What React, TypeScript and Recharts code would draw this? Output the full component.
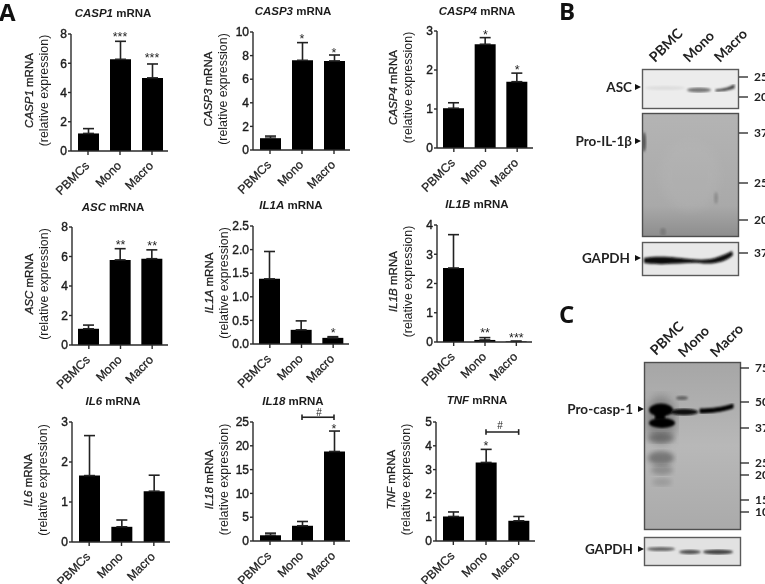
import { BarChart, Bar, XAxis, YAxis, ErrorBar, ReferenceDot, ReferenceLine } from 'recharts'

const FONT = '"Liberation Sans", Arial, sans-serif'
const BLOT_FONT = 'Lato, "Open Sans", sans-serif'
const INK = '#1c1c1c'

const categories = ['PBMCs', 'Mono', 'Macro']

const casp1Means = [1.2, 6.27, 5.0]
const casp1Tops = [1.53, 7.5, 5.95]
const casp3Means = [1.0, 7.6, 7.55]
const casp3Tops = [1.18, 9.1, 8.05]
const casp4Means = [1.02, 2.66, 1.7]
const casp4Tops = [1.16, 2.83, 1.92]
const ascMeans = [1.1, 5.77, 5.85]
const ascTops = [1.35, 6.53, 6.45]
const il1aMeans = [1.38, 0.3, 0.13]
const il1aTops = [1.96, 0.49, 0.155]
const il1bMeans = [2.53, 0.07, 0.02]
const il1bTops = [3.67, 0.15, 0.03]
const il6Means = [1.66, 0.38, 1.27]
const il6Tops = [2.66, 0.55, 1.67]
const il18Means = [1.2, 3.2, 18.8]
const il18Tops = [1.65, 4.1, 23.1]
const tnfMeans = [1.03, 3.3, 0.85]
const tnfTops = [1.22, 3.85, 1.03]

const casp1Ticks = [0, 2, 4, 6, 8]
const casp3Ticks = [0, 2, 4, 6, 8, 10]
const casp4Ticks = [0, 1, 2, 3]
const ascTicks = [0, 2, 4, 6, 8]
const il1aTicks = [0, 0.5, 1, 1.5, 2, 2.5]
const il1bTicks = [0, 1, 2, 3, 4]
const il6Ticks = [0, 1, 2, 3]
const il18Ticks = [0, 5, 10, 15, 20, 25]
const tnfTicks = [0, 1, 2, 3, 4, 5]

// significance marks, y in axis units
const casp1Marks = [['Mono', '***', 8.08], ['Macro', '***', 6.62]]
const casp3Marks = [['Mono', '*', 9.75], ['Macro', '*', 8.56]]
const casp4Marks = [['Mono', '*', 3.0], ['Macro', '*', 2.1]]
const ascMarks = [['Mono', '**', 7.05], ['Macro', '**', 6.96]]
const il1aMarks = [['Macro', '*', 0.32]]
const il1bMarks = [['Mono', '**', 0.43], ['Macro', '***', 0.26]]
const il18Marks = [['Macro', '*', 24.4]]
const tnfMarks = [['Mono', '*', 4.18]]

const panels = [
  { gene: 'CASP1', means: casp1Means, tops: casp1Tops, ticks: casp1Ticks, marks: casp1Marks, box: [71, 168, 34, 151], titleX: 113, titleY: 17, line1: 42 },
  { gene: 'CASP3', means: casp3Means, tops: casp3Tops, ticks: casp3Ticks, marks: casp3Marks, box: [253, 350, 32, 150], titleX: 293, titleY: 15, line1: 45 },
  { gene: 'CASP4', means: casp4Means, tops: casp4Tops, ticks: casp4Ticks, marks: casp4Marks, box: [437, 533, 31, 148], titleX: 477, titleY: 15, line1: 44 },
  { gene: 'ASC', means: ascMeans, tops: ascTops, ticks: ascTicks, marks: ascMarks, box: [72, 168, 227, 345], titleX: 113, titleY: 211, line1: 43 },
  { gene: 'IL1A', means: il1aMeans, tops: il1aTops, ticks: il1aTicks, marks: il1aMarks, box: [253, 349, 226, 344], titleX: 291, titleY: 209, line1: 44, decimals: 1 },
  { gene: 'IL1B', means: il1bMeans, tops: il1bTops, ticks: il1bTicks, marks: il1bMarks, box: [437, 532, 225, 342], titleX: 477, titleY: 208, line1: 44 },
  { gene: 'IL6', means: il6Means, tops: il6Tops, ticks: il6Ticks, marks: [], box: [72, 170, 422, 542], titleX: 113, titleY: 405, line1: 44 },
  { gene: 'IL18', means: il18Means, tops: il18Tops, ticks: il18Ticks, marks: il18Marks, box: [253, 350, 422, 541], titleX: 293, titleY: 405, line1: 44, bracket: [26, 0.6], hashY: 27.1, hashDx: 17 },
  { gene: 'TNF', means: tnfMeans, tops: tnfTops, ticks: tnfTicks, marks: tnfMarks, box: [436, 535, 422, 541], titleX: 477, titleY: 404, line1: 45, bracket: [4.58, 0.12], hashY: 4.88, hashDx: 14 },
]

const AngledTick = (p: any) => (
  <text
    x={p.x + 2}
    y={p.y + 9.5}
    transform={`rotate(-45 ${p.x + 2} ${p.y + 9.5})`}
    textAnchor="end"
    fontFamily={FONT}
    fontSize={12.2}
    fill={INK}
    stroke={INK}
    strokeWidth={0.25}
  >
    {p.payload.value}
  </text>
)

const Mark = (label: string, dx = 0) => (p: any) => (
  <text
    x={p.cx + dx}
    y={p.cy + (label === '#' ? 4 : 8)}
    textAnchor="middle"
    fontFamily={FONT}
    fontSize={label === '#' ? 10 : 12.5}
    fill={INK}
  >
    {label}
  </text>
)

function Panel({ panel }: { panel: (typeof panels)[number] }) {
  const [x0, x1, top, bottom] = panel.box
  const data = categories.map((name, i) => ({
    name,
    mean: panel.means[i],
    err: [0, panel.tops[i] - panel.means[i]],
  }))
  const max = panel.ticks[panel.ticks.length - 1]
  const axisStyle = { stroke: '#2a2a2a', strokeWidth: 1.4 }

  return (
    <div style={{ position: 'absolute', left: x0 - 40, top: top - 30 }}>
      <BarChart
        width={x1 - x0 + 50}
        height={bottom - top + 80}
        data={data}
        margin={{ top: 30, right: 10, bottom: 0, left: 0 }}
      >
        <XAxis
          dataKey="name"
          interval={0}
          height={50}
          padding={{ left: 1, right: 0 }}
          tick={<AngledTick />}
          tickSize={4}
          tickLine={axisStyle}
          axisLine={axisStyle}
        />
        <YAxis
          width={40}
          domain={[0, max]}
          ticks={panel.ticks}
          allowDataOverflow
          tickSize={3}
          tickMargin={1}
          tickFormatter={(v: number) => (panel.decimals ? v.toFixed(panel.decimals) : String(v))}
          tick={{ fontFamily: FONT, fontSize: 12, fill: INK, stroke: INK, strokeWidth: 0.4 }}
          tickLine={axisStyle}
          axisLine={axisStyle}
        />
        <Bar dataKey="mean" fill="#000" barSize={21} isAnimationActive={false}>
          <ErrorBar dataKey="err" width={5.5} stroke="#222" strokeWidth={1.6} isAnimationActive={false} />
        </Bar>
        {panel.marks.map(([cat, label, y]: any, i: number) => (
          <ReferenceDot key={i} x={cat} y={y} r={0} ifOverflow="visible" shape={Mark(label)} />
        ))}
        {panel.bracket && (
          <ReferenceLine
            ifOverflow="visible"
            stroke="#222"
            strokeWidth={1.6}
            segment={[
              { x: 'Mono', y: panel.bracket[0] },
              { x: 'Macro', y: panel.bracket[0] },
            ]}
          />
        )}
        {panel.bracket &&
          ['Mono', 'Macro'].map((c) => (
            <ReferenceLine
              key={c}
              ifOverflow="visible"
              stroke="#222"
              strokeWidth={1.6}
              segment={[
                { x: c, y: panel.bracket![0] - panel.bracket![1] },
                { x: c, y: panel.bracket![0] + panel.bracket![1] },
              ]}
            />
          ))}
        {panel.hashY && (
          <ReferenceDot x="Mono" y={panel.hashY} r={0} ifOverflow="visible" shape={Mark('#', panel.hashDx)} />
        )}
      </BarChart>
    </div>
  )
}

function PanelText({ panel }: { panel: (typeof panels)[number] }) {
  const [x0, , top, bottom] = panel.box
  const cy = (top + bottom) / 2 - 2
  const lx = x0 - panel.line1
  return (
    <g fontFamily={FONT} fill={INK}>
      <text x={panel.titleX} y={panel.titleY} textAnchor="middle" fontSize={11.5} fontWeight={700}>
        <tspan fontStyle="italic">{panel.gene}</tspan> mRNA
      </text>
      <text x={lx + 4} y={cy} textAnchor="middle" fontSize={11.5} stroke={INK} strokeWidth={0.3} transform={`rotate(-90 ${lx + 4} ${cy})`}>
        <tspan fontStyle="italic">{panel.gene}</tspan> mRNA
      </text>
      <text x={lx + 19} y={cy} textAnchor="middle" fontSize={12.4} transform={`rotate(-90 ${lx + 19} ${cy})`}>
        (relative expression)
      </text>
    </g>
  )
}

const Arrow = ({ x, y }: { x: number; y: number }) => <path d={`M${x} ${y - 3}L${x + 6} ${y}L${x} ${y + 3}Z`} fill="#111" />

const Ladder = ({ x, rows }: { x: number; rows: [string, number][] }) => (
  <g fontFamily={BLOT_FONT} fontSize={12} fontWeight={700} fill="#222">
    {rows.map(([label, y]) => (
      <g key={label + y}>
        <line x1={x} x2={x + 9} y1={y} y2={y} stroke="#333" strokeWidth={1.4} />
        <text x={x + 15} y={y + 4}>{label}</text>
      </g>
    ))}
  </g>
)

const Rotated = ({ x, y, text }: { x: number; y: number; text: string }) => (
  <text x={x} y={y} transform={`rotate(-45 ${x} ${y})`} fontFamily={BLOT_FONT} fontSize={14} fontWeight={700} fill="#222">
    {text}
  </text>
)

const Name = ({ x, y, text }: { x: number; y: number; text: string }) => (
  <text x={x} y={y + 5} textAnchor="end" fontFamily={BLOT_FONT} fontSize={13.5} fontWeight={700} fill="#222">
    {text}
  </text>
)

function Blots() {
  return (
    <g>
      <defs>
        <filter id="b1"><feGaussianBlur stdDeviation="1" /></filter>
        <filter id="b2"><feGaussianBlur stdDeviation="2.5" /></filter>
        <filter id="b3"><feGaussianBlur stdDeviation="5" /></filter>
        <linearGradient id="grayB" x1="0" y1="0" x2="0" y2="1">
          <stop offset="0" stopColor="#b4b4b4" />
          <stop offset="0.75" stopColor="#a9a9a9" />
          <stop offset="1" stopColor="#8d8d8d" />
        </linearGradient>
        <linearGradient id="grayC" x1="0" y1="0" x2="0" y2="1">
          <stop offset="0" stopColor="#a6a6a6" />
          <stop offset="0.5" stopColor="#b8b8b8" />
          <stop offset="1" stopColor="#aaaaaa" />
        </linearGradient>
        <clipPath id="cA"><rect x="642" y="69" width="96" height="39" /></clipPath>
        <clipPath id="cI"><rect x="642" y="113" width="96" height="123" /></clipPath>
        <clipPath id="cG"><rect x="642" y="242" width="96" height="34" /></clipPath>
        <clipPath id="cC"><rect x="644" y="362" width="96" height="168" /></clipPath>
        <clipPath id="cG2"><rect x="644" y="537" width="96" height="28" /></clipPath>
      </defs>

      {/* panel B */}
      <rect x="642.5" y="69.5" width="96" height="39" fill="#ececec" stroke="#5a5a5a" strokeWidth="1.4" />
      <g clipPath="url(#cA)">
        <ellipse cx="665" cy="88" rx="20" ry="2" fill="#ddd" filter="url(#b1)" />
        <ellipse cx="699" cy="90" rx="12" ry="2.4" fill="#777" filter="url(#b1)" />
        <path d="M716 90 Q728 89 734 85 L734 88 Q726 91 716 91 Z" fill="#444" stroke="#444" strokeWidth="1.2" filter="url(#b1)" />
      </g>
      <rect x="642.5" y="113.5" width="96" height="123" fill="url(#grayB)" stroke="#4e4e4e" strokeWidth="1.4" />
      <g clipPath="url(#cI)">
        <ellipse cx="690" cy="175" rx="30" ry="35" fill="#bbb" opacity="0.25" filter="url(#b3)" />
        <ellipse cx="716" cy="198" rx="2" ry="6" fill="#8f8f8f" filter="url(#b1)" />
        <ellipse cx="663" cy="232" rx="3" ry="4" fill="#7c7c7c" filter="url(#b1)" />
        <ellipse cx="644" cy="142" rx="2" ry="10" fill="#555" filter="url(#b1)" />
        <line x1="645" y1="137" x2="720" y2="137" stroke="#9c9c9c" strokeWidth="1.2" filter="url(#b1)" />
      </g>
      <rect x="642.5" y="242.5" width="96" height="33" fill="#e8e8e8" stroke="#5a5a5a" strokeWidth="1.4" />
      <g clipPath="url(#cG)">
        <path d="M644 258 C660 255 680 258 690 259 C700 260 708 260 715 258 C722 256 728 253 732 251 L733 255 C726 262 712 265 700 263 C685 262 665 266 644 263 Z" fill="#080808" filter="url(#b1)" />
      </g>
      <Rotated x={655} y={63} text="PBMC" />
      <Rotated x={689} y={63} text="Mono" />
      <Rotated x={720} y={63} text="Macro" />
      <Name x={632} y={87} text="ASC" />
      <Name x={632} y={141} text="Pro-IL-1β" />
      <Name x={630} y={258} text="GAPDH" />
      <Arrow x={635} y={87} />
      <Arrow x={635} y={141} />
      <Arrow x={635} y={258} />
      <Ladder x={739} rows={[['25', 77], ['20', 97], ['37', 133], ['25', 183], ['20', 220], ['37', 253]]} />

      {/* panel C */}
      <rect x="644.5" y="362.5" width="96" height="167" fill="url(#grayC)" stroke="#4e4e4e" strokeWidth="1.4" />
      <g clipPath="url(#cC)">
        <ellipse cx="661" cy="420" rx="15" ry="24" fill="#555" opacity="0.5" filter="url(#b3)" />
        <ellipse cx="661" cy="438" rx="13" ry="5" fill="#555" opacity="0.6" filter="url(#b2)" />
        <ellipse cx="661" cy="458" rx="13" ry="7" fill="#555" opacity="0.65" filter="url(#b2)" />
        <ellipse cx="662" cy="470" rx="11" ry="5" fill="#666" opacity="0.5" filter="url(#b2)" />
        <ellipse cx="662" cy="482" rx="10" ry="4" fill="#777" opacity="0.4" filter="url(#b2)" />
        <ellipse cx="682" cy="398" rx="6" ry="2" fill="#444" opacity="0.7" filter="url(#b1)" />
        <ellipse cx="661" cy="410" rx="12" ry="6.5" fill="#000" filter="url(#b1)" />
        <ellipse cx="662" cy="423" rx="13" ry="5" fill="#000" filter="url(#b1)" />
        <rect x="655" y="412" width="10" height="8" fill="#000" filter="url(#b1)" />
        <ellipse cx="684" cy="412" rx="14" ry="3.2" fill="#0a0a0a" filter="url(#b1)" />
        <path d="M700 409 C712 409 725 407 733 404 L733 408 C724 411 712 413 700 413 Z" fill="#000" stroke="#000" filter="url(#b1)" />
      </g>
      <rect x="644.5" y="537.5" width="96" height="28" fill="#e2e2e2" stroke="#5a5a5a" strokeWidth="1.4" />
      <g clipPath="url(#cG2)">
        <ellipse cx="661" cy="549" rx="14" ry="2" fill="#666" filter="url(#b1)" />
        <ellipse cx="690" cy="552" rx="11" ry="2.2" fill="#555" filter="url(#b1)" />
        <ellipse cx="718" cy="552" rx="15" ry="2.4" fill="#444" filter="url(#b1)" />
      </g>
      <Rotated x={656} y={356} text="PBMC" />
      <Rotated x={684} y={358} text="Mono" />
      <Rotated x={716} y={358} text="Macro" />
      <Name x={633} y={409} text="Pro-casp-1" />
      <Name x={633} y={549} text="GAPDH" />
      <Arrow x={638} y={409} />
      <Arrow x={638} y={549} />
      <Ladder x={740} rows={[['75', 368], ['50', 402], ['37', 428], ['25', 463], ['20', 475], ['15', 500], ['10', 512]]} />
    </g>
  )
}

export default function App() {
  return (
    <div style={{ position: 'absolute', left: 0, top: 0, width: 765, height: 584, overflow: 'hidden', background: '#fff', filter: 'blur(0.35px)' }}>
      {panels.map((p) => (
        <Panel key={p.gene} panel={p} />
      ))}
      <svg width={765} height={584} style={{ position: 'absolute', left: 0, top: 0, pointerEvents: 'none' }}>
        {panels.map((p) => (
          <PanelText key={p.gene} panel={p} />
        ))}
        <g fontFamily={'"Open Sans", sans-serif'} fontSize={24} fontWeight={700} fill="#111">
          <text x={-1} y={21}>A</text>
          <text x={559} y={20}>B</text>
          <text x={559} y={323}>C</text>
        </g>
        <Blots />
      </svg>
    </div>
  )
}
